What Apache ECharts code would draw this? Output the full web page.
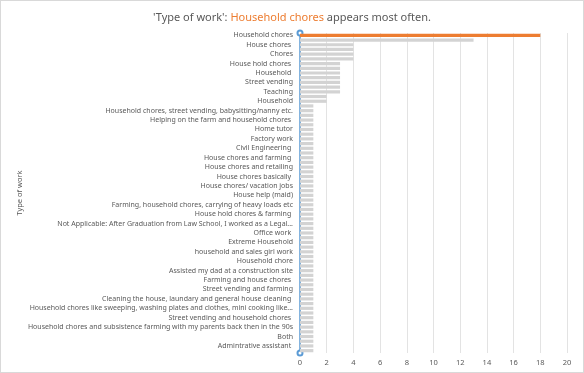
<!DOCTYPE html>
<html>
<head>
<meta charset="utf-8">
<script src="https://cdn.jsdelivr.net/npm/echarts@6/dist/echarts.min.js"></script>
<style>
html,body{margin:0;padding:0;background:#fff;}
#chart{width:584px;height:373px;box-sizing:border-box;border:1px solid #d9d9d9;}
</style>
</head>
<body>
<div id="chart"></div>
<script>
// Categories (sorted by count, top first). Odd-index names are hidden in the reference (label interval 1).
const categories = [
  "Household chores", "Housework",
  "House chores ", "House work",
  "Chores", "Household work",
  "House hold chores ", "Babysitting",
  "Household ", "Farming",
  "Street vending", "Tutoring",
  "Teaching", "Retailing",
  "Household", "Cooking",
  "Household chores, street vending, babysitting/nanny etc.", "Nanny",
  "Helping on the farm and household chores ", "Sales",
  "Home tutor", "Cleaning",
  "Factory work", "Shop assistant",
  "Civil Engineering ", "Housekeeping",
  "House chores and farming ", "Tailoring",
  "House chores and retailing", "Hairdressing",
  "House chores basically ", "Waitressing",
  "House chores/ vacation jobs", "Laundry",
  "House help (maid)", "Petty trading",
  "Farming, household chores, carrying of heavy loads etc", "Fetching water",
  "House hold chores & farming ", "Gardening",
  "Not Applicable: After Graduation from Law School, I worked as a Legal...", "Caregiving",
  "Office work ", "Cashier",
  "Extreme Household", "Receptionist",
  "household and sales girl work", "Domestic work",
  "Household chore", "Hawking",
  "Assisted my dad at a construction site", "Washing clothes",
  "Farming and house chores ", "Secretary",
  "Street vending and farming", "Helping parents",
  "Cleaning the house, laundary and general house cleaning ", "Internship",
  "Household chores like sweeping, washing plates and clothes, mini cooking like...", "Data entry",
  "Street vending and household chores ", "Shop keeping",
  "Household chores and subsistence farming with my parents back then in the 90s", "Baking",
  "Both", "Sewing",
  "Admintrative assistant ", "Trading"
];
const counts = [
  18, 13,
  4, 4, 4, 4,
  3, 3, 3, 3, 3, 3, 3,
  2, 2,
  1, 1, 1, 1, 1, 1, 1, 1, 1, 1,
  1, 1, 1, 1, 1, 1, 1, 1, 1, 1,
  1, 1, 1, 1, 1, 1, 1, 1, 1, 1,
  1, 1, 1, 1, 1, 1, 1, 1, 1, 1,
  1, 1, 1, 1, 1, 1, 1, 1, 1, 1,
  1, 1, 1
];
const xTicks = [0, 2, 4, 6, 8, 10, 12, 14, 16, 18, 20];
const titleParts = ["'Type of work': ", "Household chores", " appears most often."];

const ORANGE = '#ed7d31';
const GRAY_BAR = '#d3d3d3';
const TEXT = '#595959';
const FONT = 'Noto Sans';

const topIdx = counts.indexOf(Math.max(...counts));
const seriesData = counts.map((v, i) => i === topIdx ? {value: v, itemStyle: {color: ORANGE}} : v);

const chart = echarts.init(document.getElementById('chart'), null, {renderer: 'canvas'});
chart.setOption({
  animation: false,
  title: {
    left: 'center',
    top: 6,
    text: '{a|' + titleParts[0] + '}{b|' + titleParts[1] + '}{a|' + titleParts[2] + '}',
    textStyle: {
      fontWeight: 'normal',
      rich: {
        a: {fontFamily: FONT, fontSize: 11, fontWeight: 'normal', color: TEXT},
        b: {fontFamily: FONT, fontSize: 11, fontWeight: 'normal', color: ORANGE}
      }
    }
  },
  grid: {left: 299, right: 16, top: 32, bottom: 19, containLabel: false},
  xAxis: {
    type: 'value',
    min: xTicks[0],
    max: xTicks[xTicks.length - 1],
    interval: xTicks[1] - xTicks[0],
    axisLine: {show: false},
    axisTick: {show: false},
    axisLabel: {color: TEXT, fontSize: 7.5, fontFamily: FONT, margin: 6},
    splitLine: {show: true, lineStyle: {color: '#e3e3e3', width: 1}}
  },
  yAxis: {
    type: 'category',
    inverse: true,
    data: categories,
    name: 'Type of work',
    nameLocation: 'middle',
    nameGap: 272,
    nameTextStyle: {color: TEXT, fontSize: 7.5, fontFamily: FONT},
    axisLine: {
      show: true,
      symbol: ['emptyCircle', 'emptyCircle'],
      symbolSize: [5, 5],
      lineStyle: {color: '#5b9bd5', width: 1.5}
    },
    axisTick: {show: false},
    axisLabel: {interval: 1, color: TEXT, fontSize: 7, fontFamily: FONT, margin: 7},
    splitLine: {show: false}
  },
  series: [{
    type: 'bar',
    data: seriesData,
    itemStyle: {color: GRAY_BAR},
    barCategoryGap: '32%'
  }]
});
</script>
</body>
</html>
